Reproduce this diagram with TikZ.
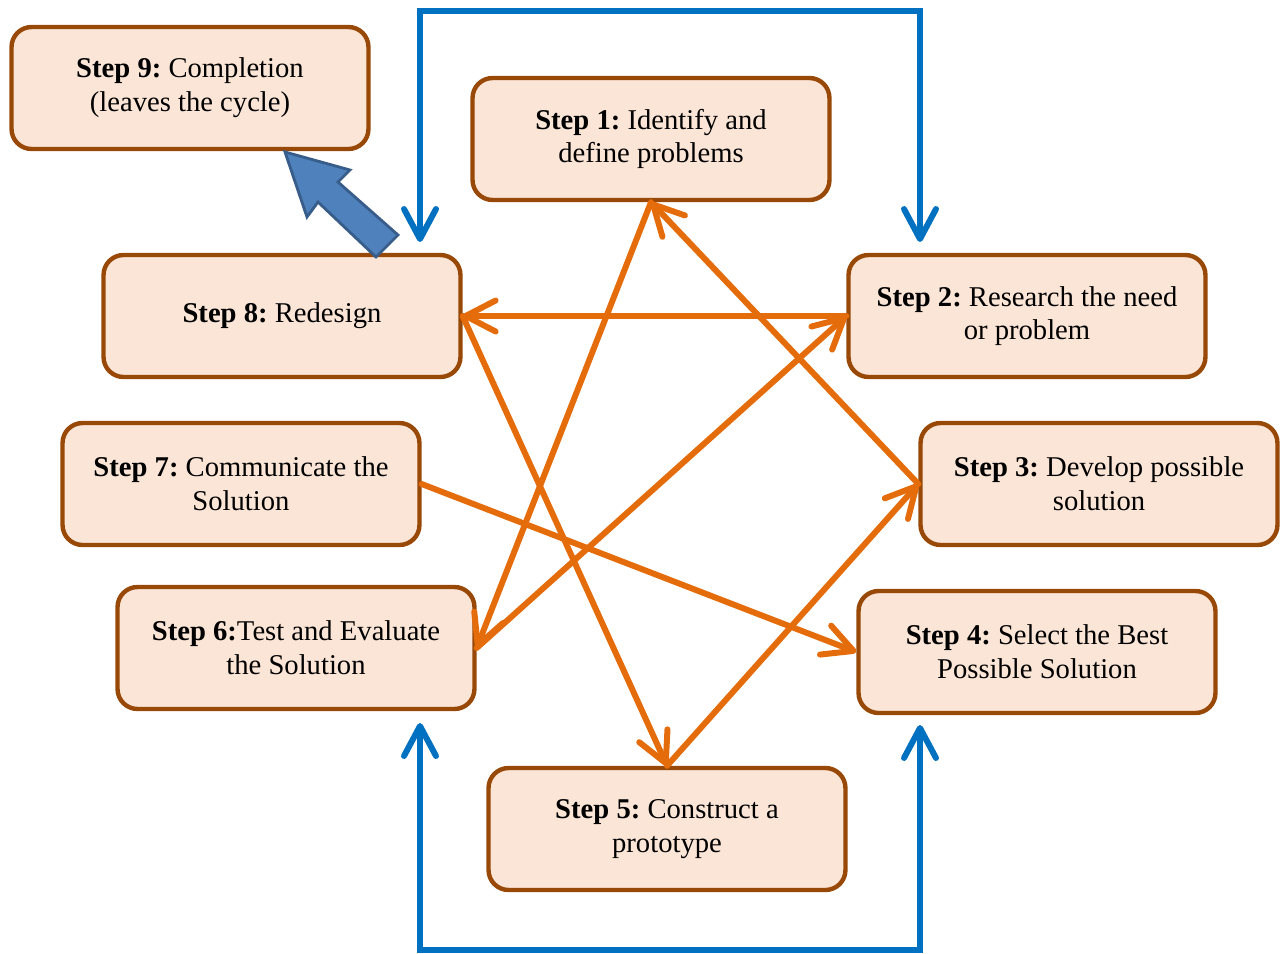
\documentclass[tikz,border=0pt]{standalone}
\usepackage{fontspec}
\setmainfont{Liberation Serif}
\usetikzlibrary{arrows.meta}
\definecolor{boxfill}{HTML}{FBE5D6}
\definecolor{boxline}{HTML}{984807}
\definecolor{flow}{HTML}{E46C0A}
\definecolor{loop}{HTML}{0070C0}
\definecolor{exitfill}{HTML}{4F81BD}
\definecolor{exitline}{HTML}{385D8A}
\frenchspacing
\begin{document}
\begin{tikzpicture}[x=0.02cm,y=-0.02cm,
	stepbox/.style={draw=boxline,fill=boxfill,line width=2.5pt,rounded corners=0.4cm,
		minimum width=7.14cm,minimum height=2.44cm,align=center,
		font=\fontsize{16.3}{19.2}\selectfont},
	flowline/.style={draw=flow,line width=3.4pt,line cap=round,
		-{Straight Barb[length=0.6cm,width=0.62cm,round]}},
	loopline/.style={draw=loop,line width=3.4pt,
		{Straight Barb[length=0.6cm,width=0.64cm,round]}-{Straight Barb[length=0.6cm,width=0.64cm,round]}}]
	\useasboundingbox (0,0) rectangle (1286,954);
	\node[stepbox] (s9) at (190,88) {\textbf{Step 9:} Completion\\(leaves the cycle)};
	\node[stepbox] (s1) at (651,139) {\textbf{Step 1:} Identify and\\define problems};
	\node[stepbox] (s8) at (282,316) {\textbf{Step 8:} Redesign};
	\node[stepbox] (s2) at (1027,316) {\textbf{Step 2:} Research the need\\or problem};
	\node[stepbox] (s7) at (241,484) {\textbf{Step 7:} Communicate the\\Solution};
	\node[stepbox] (s3) at (1099,484) {\textbf{Step 3:} Develop possible\\solution};
	\node[stepbox] (s6) at (296,648) {\textbf{Step 6:}Test and Evaluate\\the Solution};
	\node[stepbox] (s4) at (1037,652) {\textbf{Step 4:} Select the Best\\Possible Solution};
	\node[stepbox] (s5) at (667,829) {\textbf{Step 5:} Construct a\\prototype};
	\draw[flowline] (s1.south) -- (s6.east);
	\draw[flowline] (s3.west) -- (s1.south);
	\draw[flowline] (s2.west) -- (s8.east);
	\draw[flowline] (s6.east) -- (s2.west);
	\draw[flowline] (s8.east) -- (s5.north);
	\draw[flowline] (s5.north) -- (s3.west);
	\draw[flowline] (s7.east) -- (s4.west);
	\coordinate (in8) at (420,242);
	\coordinate (in2) at (920,242);
	\coordinate (in6) at (420,723);
	\coordinate (in4) at (920,725);
	\coordinate (top) at (670,11);
	\coordinate (bottom) at (670,950);
	\draw[loopline] (in8) |- (top) -| (in2);
	\draw[loopline] (in6) |- (bottom) -| (in4);
	\draw[fill=exitfill,draw=exitline,line width=1.6pt,line join=miter]
		(285,152) -- (307,217) -- (318,202) -- (376,257) -- (398,235) -- (338,182) -- (350,170) -- cycle;
\end{tikzpicture}
\end{document}
